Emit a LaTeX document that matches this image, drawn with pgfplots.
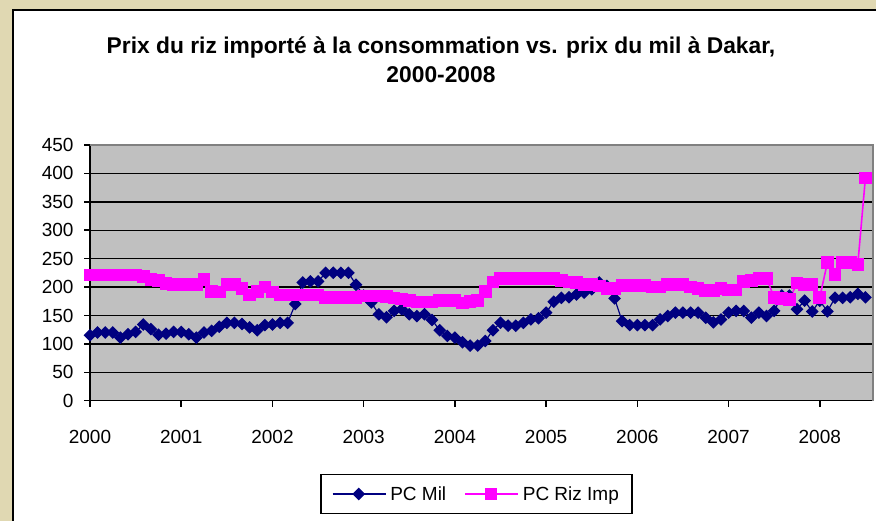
\documentclass[border=0pt]{standalone}
\usepackage{fontspec}
\setmainfont{Liberation Sans}
\usepackage{pgfplots}
\pgfplotsset{compat=1.18}
\usepackage{pgfplotstable}
\definecolor{parch}{RGB}{224,216,178}
\definecolor{plotgray}{RGB}{192,192,192}
\definecolor{navyc}{RGB}{0,0,128}
\definecolor{mag}{RGB}{255,0,255}

\pgfplotstableread{
idx mil riz
0 115 221
1 120 221
2 120 221
3 120 221
4 111 221
5 117 221
6 121 221
7 134 219
8 126 213
9 116 211
10 118 206
11 121 204
12 121 204
13 117 204
14 111 204
15 120 213
16 123 192
17 130 191
18 137 204
19 137 204
20 135 197
21 129 186
22 124 192
23 133 200
24 134 191
25 137 186
26 137 186
27 170 186
28 208 186
29 210 186
30 210 186
31 225 182
32 225 182
33 225 182
34 225 182
35 204 182
36 185 184
37 173 184
38 152 184
39 147 183
40 158 181
41 161 179
42 152 176
43 149 174
44 152 174
45 142 174
46 124 176
47 114 176
48 111 176
49 103 172
50 97 175
51 97 176
52 105 192
53 124 209
54 137 215
55 132 215
56 132 215
57 137 215
58 143 215
59 145 215
60 155 215
61 174 215
62 181 212
63 182 209
64 187 208
65 190 205
66 196 204
67 208 202
68 202 197
69 180 197
70 140 203
71 133 203
72 133 203
73 133 203
74 133 200
75 143 200
76 149 204
77 155 204
78 155 204
79 155 200
80 155 197
81 146 194
82 138 194
83 143 197
84 155 195
85 158 195
86 158 210
87 146 212
88 155 215
89 149 215
90 158 182
91 185 180
92 185 178
93 161 207
94 176 205
95 157 205
96 176 182
97 157 243
98 181 222
99 181 243
100 182 243
101 188 240
102 182 392
}\data

\begin{document}
\begin{tikzpicture}
\useasboundingbox (0pt,0pt) rectangle (876pt,521pt);
\fill[parch] (0pt,0pt) rectangle (876pt,521pt);
\draw[line width=2pt, fill=white] (13pt,-10pt) rectangle (890pt,511pt);
\node[font=\bfseries\fontsize{22.8}{29}\selectfont, align=center] at (441pt,461pt) {Prix du riz importé à la consommation vs. prix du mil à Dakar,\\2000-2008};
\begin{axis}[
 at={(90pt,120.3pt)}, anchor=south west,
 scale only axis, width=783pt, height=255.7pt,
 xmin=0, xmax=103, ymin=0, ymax=450,
 clip=false,
 axis background/.style={fill=plotgray},
 axis x line*=bottom, axis y line*=left,
 axis line style={black, line width=1.6pt, -},
 xtick={0,12,24,36,48,60,72,84,96},
 xticklabels={2000,2001,2002,2003,2004,2005,2006,2007,2008},
 ytick={0,50,100,150,200,250,300,350,400,450},
 ymajorgrids, grid style={black, line width=1.4pt},
 tick align=outside, major tick length=6pt,
 tick style={black, line width=1.5pt},
 tick label style={font=\fontsize{19}{21}\selectfont},
 /pgf/number format/assume math mode=true,
 xticklabel style={yshift=-20pt},
 yticklabel style={xshift=-7pt},
 legend style={at={(0.4936,-0.365)}, anchor=center, legend columns=2,
   draw=black, line width=1.5pt, fill=white,
   font=\fontsize{19}{21}\selectfont,
   /tikz/every even column/.append style={column sep=16pt},
   /tikz/every odd column/.append style={column sep=2pt},
   inner xsep=11pt, inner ysep=10pt},
 legend cell align=left,
 legend image code/.code={\draw[mark repeat=2,mark phase=2,#1] plot coordinates {(0pt,0pt) (26pt,0pt) (53pt,0pt)};},
]
\addplot[navyc, line width=1.2pt, mark=square*, mark size=3.9pt, mark options={rotate=45, fill=navyc, draw=navyc}] table[x=idx, y=mil] {\data};
\addlegendentry{PC Mil}
\addplot[mag, line width=1.6pt, mark=square*, mark size=5.5pt, mark options={fill=mag, draw=mag}] table[x=idx, y=riz] {\data};
\addlegendentry{PC Riz Imp}
\draw[gray, line width=1.5pt] (rel axis cs:0,1) -- (rel axis cs:1,1) -- (rel axis cs:1,0);
\end{axis}
\end{tikzpicture}
\end{document}
